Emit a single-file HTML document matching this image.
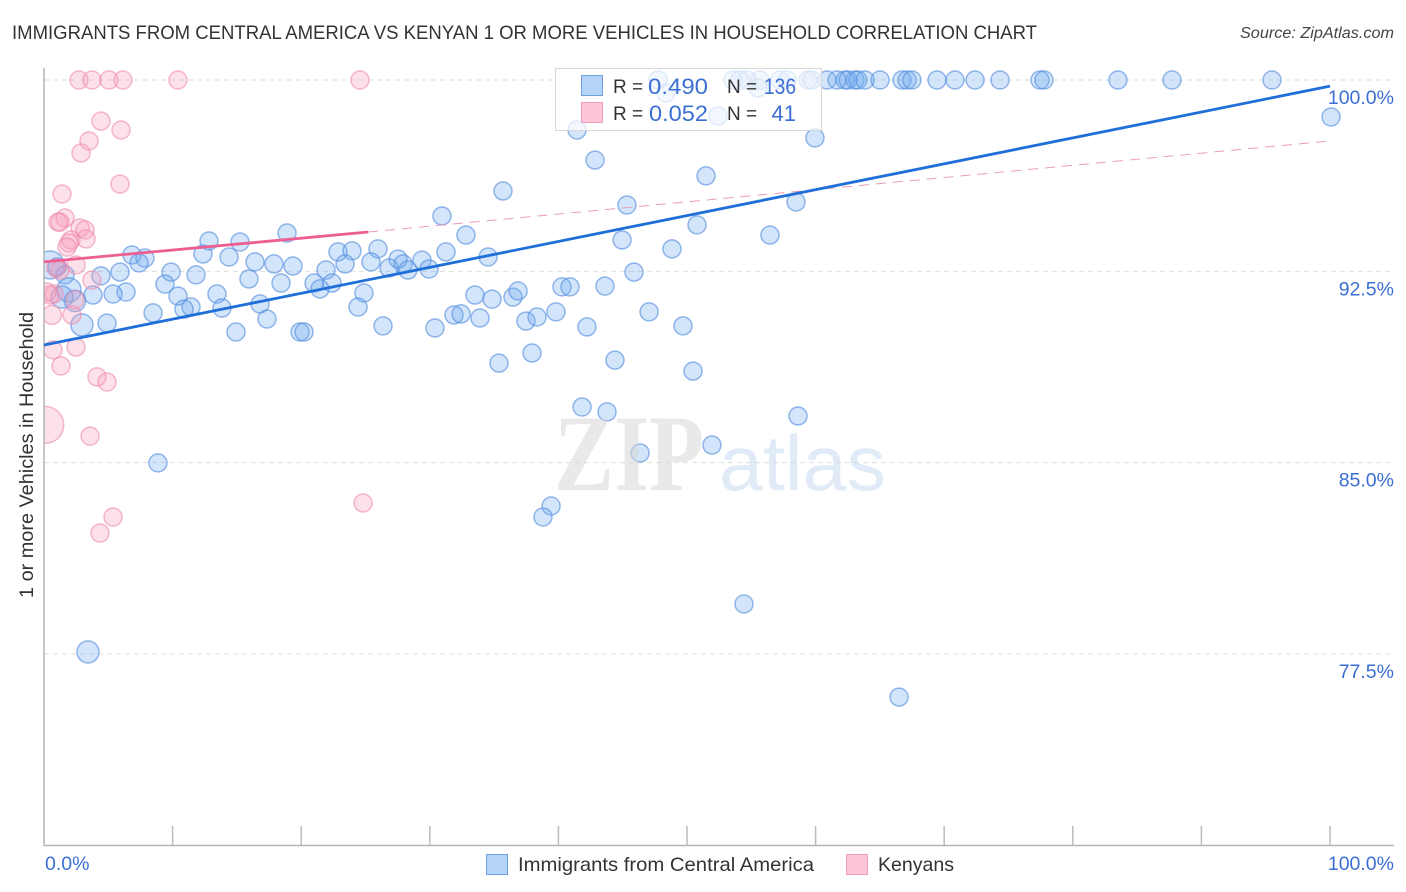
<!DOCTYPE html>
<html lang="en">
<head>
<meta charset="utf-8">
<title>Immigrants from Central America vs Kenyan correlation chart</title>
<style>
html,body{margin:0;padding:0;background:#fff;width:1406px;height:892px;overflow:hidden}
svg{display:block}
text{font-family:"Liberation Sans",sans-serif}
</style>
</head>
<body>
<svg id="chart" width="1406" height="892" viewBox="0 0 1406 892" xmlns="http://www.w3.org/2000/svg">
  <text x="12" y="39" font-size="19" fill="#333" textLength="1025" lengthAdjust="spacingAndGlyphs">IMMIGRANTS FROM CENTRAL AMERICA VS KENYAN 1 OR MORE VEHICLES IN HOUSEHOLD CORRELATION CHART</text>
  <text x="1394" y="38" font-size="15.5" font-style="italic" fill="#444" text-anchor="end" textLength="154" lengthAdjust="spacingAndGlyphs">Source: ZipAtlas.com</text>
  <g id="grid"></g>
  <g id="blue-points"></g>
  <g id="pink-points"></g>
  <rect x="0" y="60" width="44" height="790" fill="#fff"></rect>
  <g id="axes"></g>
  <g id="trends"></g>
  <g>
    <text x="554" y="490" font-size="109" font-weight="700" fill="#d8d8d8" opacity="0.55" textLength="150" lengthAdjust="spacingAndGlyphs" style="font-family:'Liberation Serif',serif">ZIP</text>
    <text x="719" y="490" font-size="78" fill="#bdd3f1" opacity="0.45" textLength="167" lengthAdjust="spacingAndGlyphs">atlas</text>
  </g>
  <text transform="translate(33,455) rotate(-90)" font-size="19" fill="#333" text-anchor="middle" textLength="286" lengthAdjust="spacingAndGlyphs">1 or more Vehicles in Household</text>
  <g>
    <rect x="555.5" y="68.5" width="266" height="62" fill="#fff" fill-opacity="0.72" stroke="#d8d8d8" stroke-width="1"></rect>
    <rect x="581.5" y="75.5" width="21" height="20" fill="#b5d2f7" stroke="#6f9fe2"></rect>
    <rect x="581.5" y="102.5" width="21" height="20" fill="#fcc6d8" stroke="#f19cb8"></rect>
    <text x="613" y="93" font-size="19" fill="#333">R =</text>
    <text x="648" y="94" font-size="22" fill="#3b6fd4" textLength="60" lengthAdjust="spacingAndGlyphs">0.490</text>
    <text x="727" y="93" font-size="19" fill="#333">N =</text>
    <text x="764" y="94" font-size="22" fill="#3b6fd4" textLength="32" lengthAdjust="spacingAndGlyphs">136</text>
    <text x="613" y="120" font-size="19" fill="#333">R =</text>
    <text x="649" y="121" font-size="22" fill="#3b6fd4" textLength="59" lengthAdjust="spacingAndGlyphs">0.052</text>
    <text x="727" y="120" font-size="19" fill="#333">N =</text>
    <text x="796" y="121" font-size="22" fill="#3b6fd4" text-anchor="end">41</text>
  </g>
  <g>
    <rect x="486.5" y="854.5" width="21" height="20" fill="#b5d2f7" stroke="#6f9fe2"></rect>
    <text x="518" y="871" font-size="19.5" fill="#333" textLength="296" lengthAdjust="spacingAndGlyphs">Immigrants from Central America</text>
    <rect x="846.5" y="854.5" width="21" height="20" fill="#fcc6d8" stroke="#f19cb8"></rect>
    <text x="878" y="871" font-size="19.5" fill="#333" textLength="76" lengthAdjust="spacingAndGlyphs">Kenyans</text>
  </g>
</svg>
<script>
const yTickValues = [100, 92.5, 85, 77.5];
const yTickLabels = ["100.0%", "92.5%", "85.0%", "77.5%"];
const xTickValues = [10, 20, 30, 40, 50, 60, 70, 80, 90, 100];
const xEndValues = [0, 100];
const xEndLabels = ["0.0%", "100.0%"];

const blueX = [47.75,53.58,54.12,54.67,55.68,57.23,57.78,59.41,59.72,60.89,61.67,62.29,62.52,63.06,63.29,63.84,65.01,66.72,67.11,67.49,69.44,70.84,72.40,74.34,77.45,77.76,83.51,87.71,95.49,
48.37,55.52,100.08,52.41,41.45,59.95,42.85,51.48,35.69,45.33,58.48,30.95,50.78,32.81,44.95,56.45,48.83,18.90,12.83,15.24,6.84,7.85,7.39,14.39,12.36,16.41,17.88,19.36,22.86,23.95,23.41,25.97,25.43,27.53,27.92,28.30,26.83,29.39,29.94,31.26,34.53,21.93,9.88,5.91,11.82,4.43,45.88,
15.94,18.43,21.00,22.40,21.46,9.41,6.38,5.37,3.81,10.42,13.45,24.88,33.51,34.84,36.47,36.86,40.28,40.90,43.62,16.80,13.84,11.43,10.89,8.48,17.34,24.42,31.88,32.43,33.90,37.48,38.34,39.81,47.05,14.93,19.91,20.22,26.36,30.40,42.22,49.69,4.90,
37.95,44.40,35.38,50.47,41.84,43.78,58.63,51.94,46.35,8.86,39.43,38.80,54.43,66.49,3.42,2.95,0.47,1.01,1.63,1.94,1.40,2.41];
const blueY = [100,100,100,100,100,100,100,100,100,100,100,100,100,100,100,100,100,100,100,100,100,100,100,100,100,100,100,100,100,
99.49,99.69,98.55,98.59,98.04,97.73,96.86,96.24,95.65,95.10,95.22,94.67,94.32,93.92,93.73,93.92,93.38,94.00,93.69,93.65,93.14,93.02,92.83,93.06,93.18,92.87,92.79,92.71,93.26,93.30,92.79,93.38,92.87,92.98,92.79,92.55,92.63,92.94,92.59,93.26,93.06,92.55,92.47,92.47,92.36,92.32,92.47,
92.20,92.04,92.04,92.04,91.81,92.00,91.69,91.61,91.57,91.53,91.61,91.65,91.57,91.41,91.49,91.73,91.89,91.89,91.92,91.22,91.06,91.10,91.02,90.87,90.63,91.10,90.79,90.83,90.67,90.55,90.71,90.91,90.91,90.12,90.12,90.12,90.36,90.28,90.32,90.36,90.47,
89.30,89.02,88.90,88.59,87.18,86.99,86.83,85.69,85.38,84.99,83.30,82.87,79.46,75.81,77.58,90.40,92.75,92.67,92.36,91.77,91.49,91.34];
const blueTailWeights = [1.5, 1.5, 2.4, 1, 1, 1.8, 1.5, 1.4];

const pinkX = [2.72,3.73,5.05,6.14,10.42,24.57,4.43,5.99,3.50,2.88,5.91,1.40,1.63,1.09,1.24,2.80,3.19,3.27,2.10,1.94,1.79,2.49,3.73,0.78,0.47,0.62,2.18,0.70,2.49,1.32,4.12,4.90,0.1,3.58,5.37,4.35,24.81,1.24,2.41,0.23,0.93];
const pinkY = [100,100,100,100,100,100,98.39,98.04,97.61,97.14,95.92,95.53,94.59,94.43,94.43,94.20,94.12,93.77,93.73,93.61,93.45,92.75,92.16,91.61,91.57,90.79,90.79,89.42,89.53,88.79,88.36,88.16,86.48,86.04,82.87,82.24,83.42,92.55,91.38,91.69,92.63];
const pinkWeight = [1,1,1,1,1,1,1,1,1,1,1,1,1,1,1,1,1,1,1,1,1,1,1,1,1,1.1,1,1,1,1,1,1,4.2,1,1,1,1,1,1,1,1];

const blueTrendX = [0, 100];
const blueTrendY = [89.61, 99.76];
const pinkSolidX = [0, 25.2];
const pinkSolidY = [92.87, 94.04];
const pinkDashX = [25.2, 100];
const pinkDashY = [94.04, 97.61];

const NS = "http://www.w3.org/2000/svg";
const xScale = v => 44 + v * 12.86;
const yScale = v => 80 + (100 - v) * 25.51;
const rScale = w => 9 * Math.sqrt(w);

function make(tag, attrs, parent) {
  const el = document.createElementNS(NS, tag);
  for (const k in attrs) el.setAttribute(k, attrs[k]);
  parent.appendChild(el);
  return el;
}

const grid = document.getElementById("grid");
const axes = document.getElementById("axes");
yTickValues.forEach((v, i) => {
  const line = make("line", {x1: 44, x2: 1394, y1: yScale(v), y2: yScale(v), stroke: "#dedede", "stroke-width": 1, "stroke-dasharray": "5 4"}, grid);
  
  
  const label = make("text", {x: 1394, y: yScale(v) + 24, "font-size": 19.5, fill: "#3b6fd4", "text-anchor": "end"}, axes);
  label.textContent = yTickLabels[i];
  
  
});

const yAxis = make("line", {x1: 44, x2: 44, y1: 68, y2: 845.5, stroke: "#b4b4b4", "stroke-width": 1.5}, axes);


const xAxis = make("line", {x1: 43.5, x2: 1394, y1: 845.5, y2: 845.5, stroke: "#b4b4b4", "stroke-width": 1.5}, axes);



xTickValues.forEach(v => {
  const tick = make("line", {x1: xScale(v), x2: xScale(v), y1: 826, y2: 845, stroke: "#bcbcbc", "stroke-width": 1.5}, axes);
  
  
});
xEndValues.forEach((v, i) => {
  const label = make("text", {x: i === 0 ? xScale(v) + 1 : 1394, y: 870, "font-size": 19.5, fill: "#3b6fd4", "text-anchor": i === 0 ? "start" : "end"}, axes);
  label.textContent = xEndLabels[i];
  
  
});

const blueGroup = document.getElementById("blue-points");
const tailStart = blueX.length - blueTailWeights.length;
blueX.forEach((x, i) => {
  const weight = i >= tailStart ? blueTailWeights[i - tailStart] : 1;
  const dot = make("circle", {cx: xScale(x), cy: yScale(blueY[i]), r: rScale(weight), fill: "#6ea8ee", "fill-opacity": 0.3, stroke: "#5a92e0", "stroke-opacity": 0.65, "stroke-width": 1.5}, blueGroup);
  
  
});

const pinkGroup = document.getElementById("pink-points");
pinkX.forEach((x, i) => {
  const dot = make("circle", {cx: xScale(x), cy: yScale(pinkY[i]), r: rScale(pinkWeight[i]), fill: "#f79ab8", "fill-opacity": 0.3, stroke: "#ee8bac", "stroke-opacity": 0.6, "stroke-width": 1.5}, pinkGroup);
  
  
});

const trends = document.getElementById("trends");
const pinkDash = make("line", {x1: xScale(pinkDashX[0]), x2: xScale(pinkDashX[1]), y1: yScale(pinkDashY[0]), y2: yScale(pinkDashY[1]), stroke: "#e99db8", "stroke-width": 1, "stroke-dasharray": "10 7"}, trends);


const pinkSolid = make("line", {x1: xScale(pinkSolidX[0]), x2: xScale(pinkSolidX[1]), y1: yScale(pinkSolidY[0]), y2: yScale(pinkSolidY[1]), stroke: "#ec5f90", "stroke-width": 2.8}, trends);


const blueTrend = make("line", {x1: xScale(blueTrendX[0]), x2: xScale(blueTrendX[1]), y1: yScale(blueTrendY[0]), y2: yScale(blueTrendY[1]), stroke: "#1f6fd8", "stroke-width": 2.8}, trends);


</script>
</body>
</html>
